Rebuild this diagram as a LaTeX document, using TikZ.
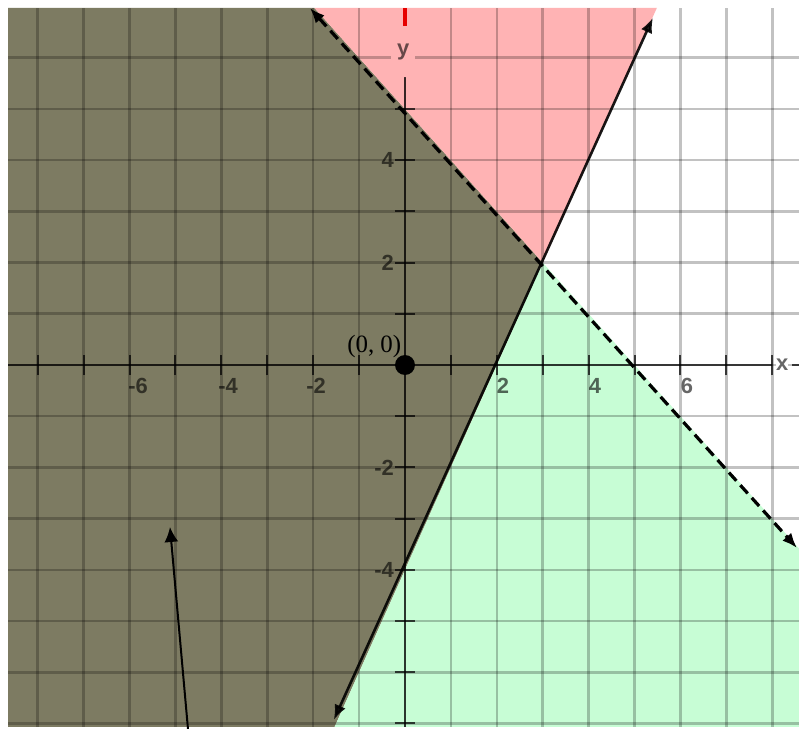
\documentclass[tikz,border=0pt]{standalone}
\usepackage{fontspec}
\setmainfont{Liberation Serif}
\newfontfamily\tickfont{Liberation Sans}
\usetikzlibrary{arrows.meta}
\definecolor{olivefill}{RGB}{125,123,98}
\definecolor{pinkfill}{RGB}{255,179,180}
\definecolor{greenfill}{RGB}{199,253,213}
\definecolor{axisred}{RGB}{230,0,0}
\tikzset{
  gridline/.style={black,opacity=0.24,line width=2.6bp},
  axisline/.style={black,opacity=0.72,line width=2bp},
  ticklbl/.style={font=\tickfont\bfseries\fontsize{22}{22}\selectfont,text=black,text opacity=0.6,inner sep=0pt},
  solidline/.style={black,opacity=0.9,line width=2.6bp,{Latex[length=15bp,width=12bp]}-{Latex[length=15bp,width=12bp]}},
  dashline/.style={black,line width=3.2bp,dash pattern=on 11bp off 6bp,{Latex[length=15bp,width=12bp]}-{Latex[length=15bp,width=12bp]}},
  pointer/.style={black,line width=2bp,-{Latex[length=15bp,width=14bp]}}
}
\begin{document}
\begin{tikzpicture}[x=45.9bp,y=51.2bp]
\useasboundingbox[fill=white] (-8.8235,-7.1094) rectangle (8.5839,7.1289);
% regions
\coordinate (P) at (3,2);
\coordinate (TL) at (-8.649,6.973);
\coordinate (BL) at (-8.649,-7.07);
\coordinate (BR) at (8.584,-7.07);
\coordinate (DT) at (-1.973,6.973);
\coordinate (ST) at (5.4865,6.973);
\coordinate (SB) at (-1.535,-7.07);
\coordinate (DR) at (8.584,-3.584);
\fill[olivefill] (P) -- (DT) -- (TL) -- (BL) -- (SB) -- cycle;
\fill[pinkfill] (P) -- (DT) -- (ST) -- cycle;
\fill[greenfill] (P) -- (DR) -- (BR) -- (SB) -- cycle;
% grid
\begin{scope}
\clip (TL) rectangle (BR);
\foreach \i in {-8,...,8} \draw[gridline] (\i,-7.07) -- (\i,6.973);
\foreach \j in {-7,...,6} \draw[gridline] (-8.649,\j) -- (8.584,\j);
\end{scope}
% y label gap
\node[fill=pinkfill,minimum width=24bp,minimum height=52bp,inner sep=0pt] (ygap) at (-0.04,6.11) {};
\node[ticklbl] (ylbl) at (-0.04,6.11) {y};
% x axis
\coordinate (xa0) at (-8.649,0);
\coordinate (xa1) at (8,0);
\draw[axisline] (xa0) -- (xa1);
\node[fill=white,inner sep=1pt,ticklbl] (xlbl) at (8.22,0) {x};
\coordinate (xa2) at (8.43,0);
\coordinate (xa3) at (8.584,0);
\draw[axisline] (xa2) -- (xa3);
\foreach \i in {-8,...,8} \draw[axisline] (\i,-0.2) -- (\i,0.2);
% y axis
\coordinate (ya0) at (0,-7.07);
\coordinate (ya1) at (0,5.63);
\draw[axisline] (ya0) -- (ya1);
\foreach \j in {-7,...,5} \draw[axisline] (-0.22,\j) -- (0.22,\j);
\coordinate (yr0) at (0,6.62);
\coordinate (yr1) at (0,6.973);
\draw[axisred,line width=3.5bp] (yr0) -- (yr1);
% tick labels
\node[ticklbl] (lm6) at (-5.817,-0.41) {-6};
\node[ticklbl] (lm4) at (-3.856,-0.41) {-4};
\node[ticklbl] (lm2) at (-1.939,-0.41) {-2};
\node[ticklbl] (lp2) at (2.135,-0.41) {2};
\node[ticklbl] (lp4) at (4.139,-0.41) {4};
\node[ticklbl] (lp6) at (6.144,-0.41) {6};
\node[ticklbl,anchor=east] (ly4) at (-0.24,4) {4};
\node[ticklbl,anchor=east] (ly2) at (-0.24,2) {2};
\node[ticklbl,anchor=east] (lym2) at (-0.24,-2) {-2};
\node[ticklbl,anchor=east] (lym4) at (-0.24,-4) {-4};
% boundary lines
\coordinate (s1) at (-1.55,-6.93);
\coordinate (s2) at (5.40,6.78);
\draw[solidline] (s1) -- (s2);
\coordinate (d1) at (-2.07,6.97);
\coordinate (d2) at (8.54,-3.574);
\draw[dashline] (d1) -- (d2);
% origin point
\node[circle,fill=black,minimum size=20bp,inner sep=0pt] (O) at (0,0) {};
\node[font=\fontsize{25}{25}\selectfont,inner sep=0pt] (Olbl) at (-0.67,0.37) {(0, 0)};
% pointer arrow
\coordinate (pt0) at (-4.728,-7.109);
\coordinate (pt1) at (-5.12,-3.164);
\draw[pointer] (pt0) -- (pt1);
\end{tikzpicture}
\end{document}
